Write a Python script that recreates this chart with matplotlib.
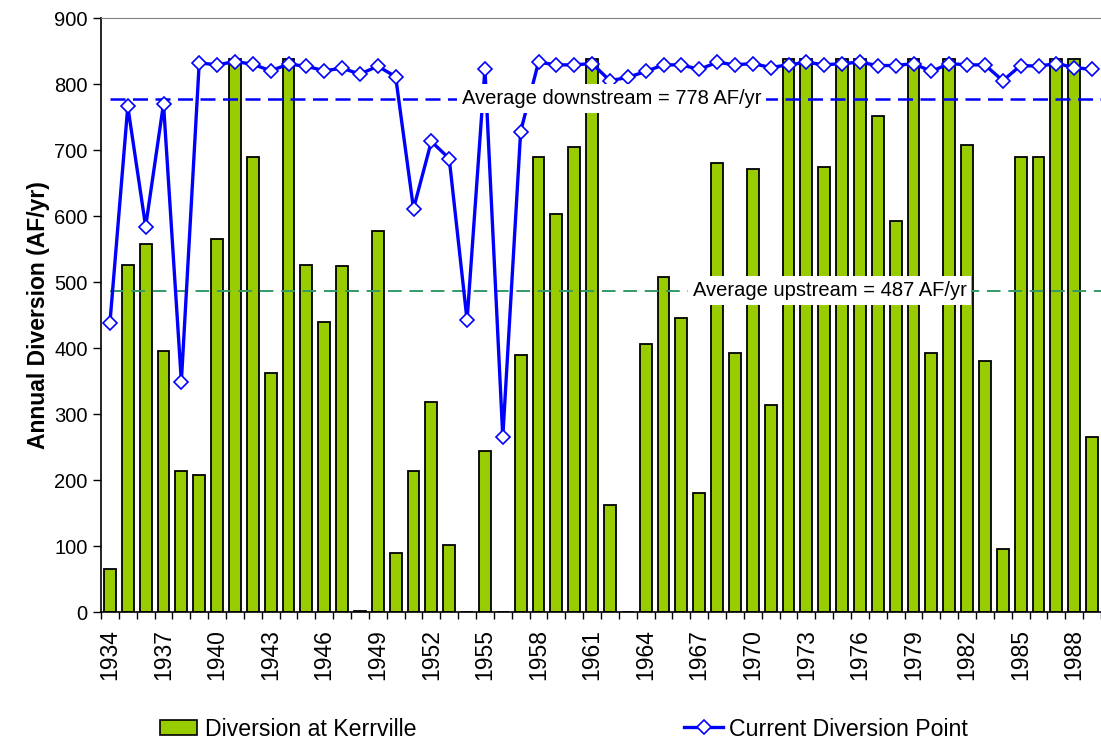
"""
Annual diversion at Kerrville vs. current diversion point
"""

import numpy as np
import matplotlib.pyplot as plt
from matplotlib.patches import Patch
from matplotlib.lines import Line2D

# categories
years = list(range(1934, 1990))

# series values (AF/yr)
kerrville = [65, 526, 557, 396, 214, 207, 565, 838, 689, 362,
             838, 526, 440, 525, 2, 578, 89, 213, 318, 102,
             0, 244, 0, 390, 689, 603, 705, 838, 162, 0,
             406, 508, 445, 181, 681, 393, 671, 313, 838, 838,
             674, 838, 838, 751, 593, 838, 393, 838, 708, 380,
             96, 689, 689, 838, 838, 265]
current_point = [438, 766, 584, 770, 349, 832, 829, 834, 830, 820,
                 830, 827, 820, 824, 815, 827, 811, 611, 713, 687,
                 442, 823, 265, 728, 833, 829, 829, 831, 805, 810,
                 819, 829, 829, 822, 833, 829, 831, 825, 829, 833,
                 829, 831, 833, 828, 828, 831, 819, 831, 829, 829,
                 805, 828, 827, 831, 825, 822]

avg_downstream = 778
avg_upstream = 487
yticks = [0, 100, 200, 300, 400, 500, 600, 700, 800, 900]

plt.rcParams['font.family'] = ['Liberation Sans', 'DejaVu Sans']

fig = plt.figure(figsize=(11.01, 7.40), dpi=100)
ax = fig.add_axes([101 / 1101, 1 - 612 / 740, 1 - 101 / 1101, (612 - 18) / 740])

x = np.arange(len(years))

# bars
ax.bar(x, kerrville, width=0.67, color='#99CC00', edgecolor='black',
       linewidth=1.3, zorder=2)

# average lines
ax.plot([0, len(years)], [avg_downstream, avg_downstream], color='#0000FF',
        linewidth=1.8, dashes=(6, 3), zorder=3)
ax.plot([0, len(years)], [avg_upstream, avg_upstream], color='#339966',
        linewidth=1.4, dashes=(7, 4), zorder=3)

# current diversion point
ax.plot(x, current_point, color='#0000FF', linewidth=2.4, marker='D',
        markersize=7.2, markerfacecolor='white', markeredgecolor='#0000FF',
        markeredgewidth=1.2, zorder=4)

# labels for averages
box = dict(facecolor='white', edgecolor='none', pad=3.5)
ax.text(28.1, avg_downstream, 'Average downstream = %d AF/yr' % avg_downstream,
        ha='center', va='center', fontsize=14.5, bbox=box, zorder=6)
ax.text(40.3, avg_upstream, 'Average upstream = %d AF/yr' % avg_upstream,
        ha='center', va='center', fontsize=14.5, bbox=box, zorder=6)

# axes
ax.set_xlim(-0.5, 55.0)
ax.set_ylim(0, 900)
ax.set_yticks(yticks)
ax.tick_params(axis='y', labelsize=14.5, length=6, width=1, direction='out')
ax.set_ylabel('Annual Diversion (AF/yr)', fontsize=16.5, fontweight='bold',
              labelpad=3)

ax.set_xticks(x[::3])
ax.set_xticklabels([str(y) for y in years[::3]], rotation=90, fontsize=16.5)
ax.set_xticks(np.arange(-0.5, len(years), 1), minor=True)
ax.tick_params(axis='x', which='major', length=0, pad=12)
ax.tick_params(axis='x', which='minor', length=5, width=1, direction='out')

ax.spines['right'].set_visible(False)
ax.spines['top'].set_color('#808080')
ax.spines['left'].set_linewidth(1.2)
ax.spines['bottom'].set_linewidth(1.2)

# legend, two separate entries along the bottom
h1 = Patch(facecolor='#99CC00', edgecolor='black', linewidth=1.2)
h2 = Line2D([], [], color='#0000FF', linewidth=2.4, marker='D', markersize=7.2,
            markerfacecolor='white', markeredgecolor='#0000FF',
            markeredgewidth=1.2)
fig.legend([h1], ['Diversion at Kerrville'], loc='center left',
           bbox_to_anchor=(160 / 1101, 1 - 729 / 740), frameon=False,
           fontsize=16.7, borderpad=0, borderaxespad=0, handlelength=1.6,
           handleheight=0.65, handletextpad=0.35)
fig.legend([h2], ['Current Diversion Point'], loc='center left',
           bbox_to_anchor=(684 / 1101, 1 - 729 / 740), frameon=False,
           fontsize=16.7, borderpad=0, borderaxespad=0, handlelength=1.7,
           handletextpad=0.25)

fig.savefig('out.png', dpi=100)
